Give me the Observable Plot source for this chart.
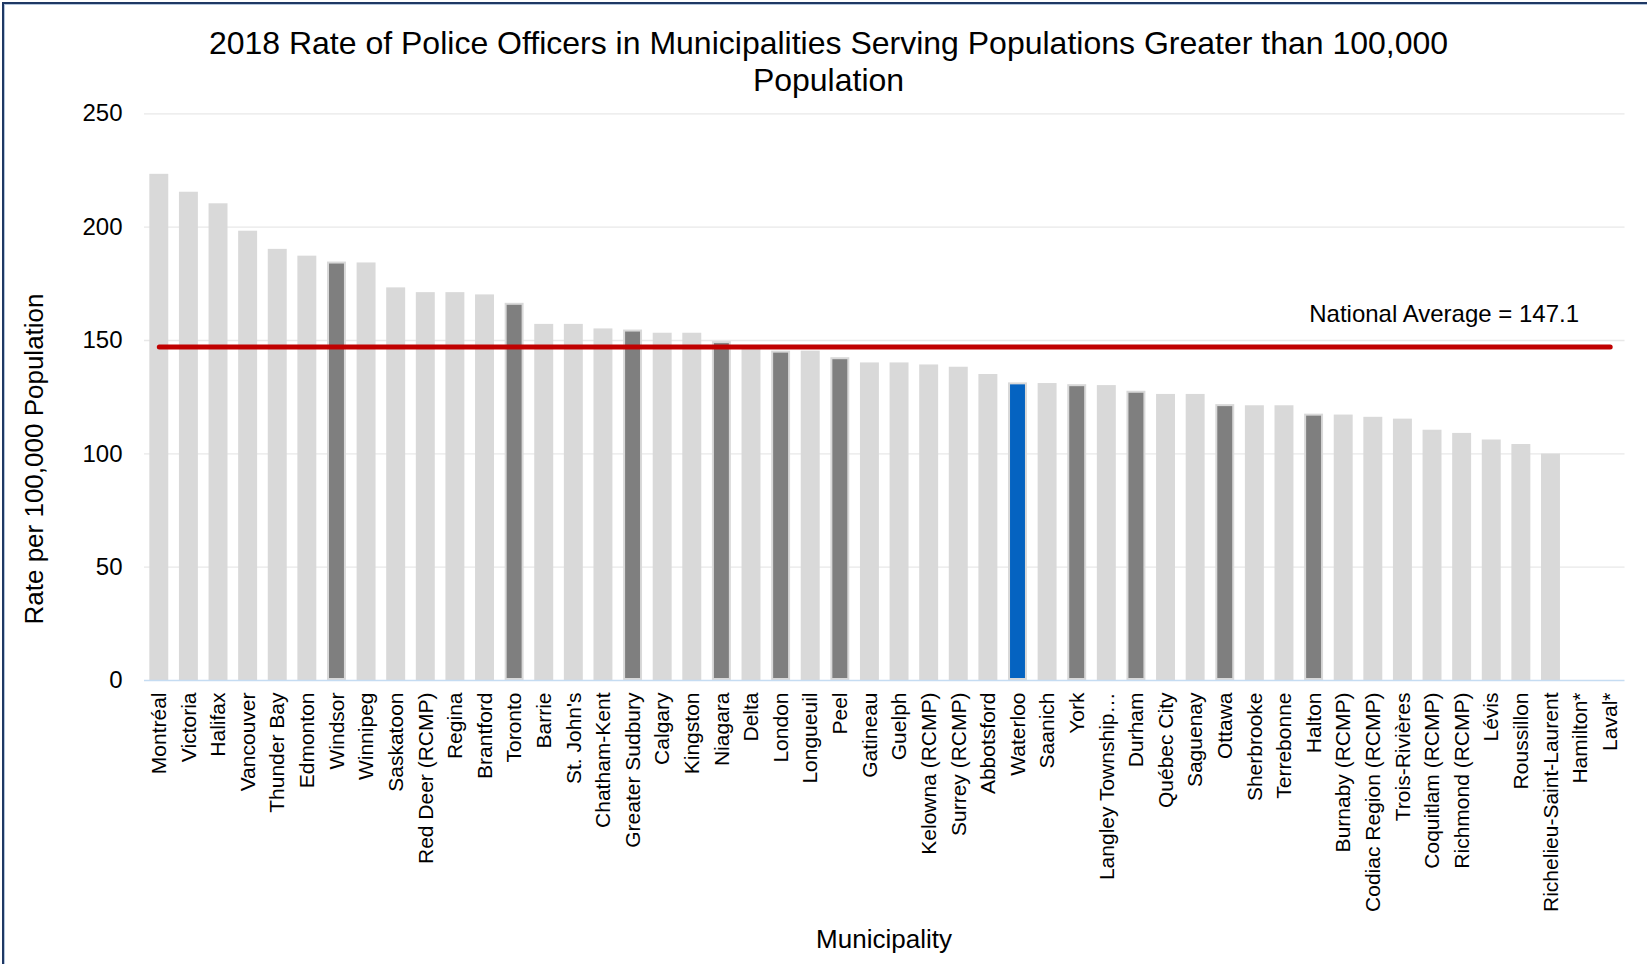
<!DOCTYPE html>
<html>
<head>
<meta charset="utf-8">
<script src="https://cdn.jsdelivr.net/npm/d3@7"></script>
<script src="https://cdn.jsdelivr.net/npm/@observablehq/plot@0.6"></script>
<style>
  html, body { margin: 0; padding: 0; background: #fff; }
  #chart { position: relative; width: 1647px; height: 964px; overflow: hidden; background: #fff;
           font-family: "Liberation Sans", Arial, sans-serif; color: #000; }
  #frame { position: absolute; left: 2px; top: 2px; width: 1700px; height: 1000px;
           border-top: 2.5px solid #1f3864; border-left: 2.5px solid #1f3864;
           box-shadow: inset 1px 1px 0 #b4c6dc; pointer-events: none; }
  #title { position: absolute; left: 0; top: 25px; width: 1657px; text-align: center;
           font-size: 32px; line-height: 36.8px; }
  #ylabel { position: absolute; left: 34px; top: 459px; width: 420px; margin-left: -210px;
            margin-top: -15px; line-height: 30px; text-align: center; font-size: 26px;
            transform: rotate(-90deg); transform-origin: 50% 50%; white-space: nowrap; }
  #xlabel { position: absolute; left: 884px; top: 924px; width: 300px; margin-left: -150px;
            text-align: center; font-size: 26px; line-height: 30px; }
  #plot { position: absolute; left: 0; top: 0; }
</style>
</head>
<body>
<div id="chart">
  <div id="plot"></div>
  <div id="title">2018 Rate of Police Officers in Municipalities Serving Populations Greater than 100,000<br>Population</div>
  <div id="ylabel">Rate per 100,000 Population</div>
  <div id="xlabel">Municipality</div>
  <div id="frame"></div>
</div>
<script>
// Municipalities, in ranked order
const municipalities = [
  "Montréal", "Victoria", "Halifax", "Vancouver", "Thunder Bay", "Edmonton", "Windsor",
  "Winnipeg", "Saskatoon", "Red Deer (RCMP)", "Regina", "Brantford", "Toronto", "Barrie",
  "St. John's", "Chatham-Kent", "Greater Sudbury", "Calgary", "Kingston", "Niagara", "Delta",
  "London", "Longueuil", "Peel", "Gatineau", "Guelph", "Kelowna (RCMP)", "Surrey (RCMP)",
  "Abbotsford", "Waterloo", "Saanich", "York", "Langley Township…", "Durham", "Québec City",
  "Saguenay", "Ottawa", "Sherbrooke", "Terrebonne", "Halton", "Burnaby (RCMP)",
  "Codiac Region (RCMP)", "Trois-Rivières", "Coquitlam (RCMP)", "Richmond (RCMP)", "Lévis",
  "Roussillon", "Richelieu-Saint-Laurent", "Hamilton*", "Laval*"
];

// Police officers per 100,000 population (null = not reported)
const rates = [
  223.3, 215.4, 210.3, 198.2, 190.2, 187.2, 184.6,
  184.2, 173.2, 171.1, 171.1, 170.1, 166.4, 157.1,
  157.1, 155.1, 154.6, 153.2, 153.2, 149.5, 146.8,
  145.3, 145.3, 142.4, 140.1, 140.1, 139.2, 138.2,
  135.0, 131.3, 131.0, 130.5, 130.1, 127.6, 126.2,
  126.2, 121.7, 121.2, 121.2, 117.5, 117.1,
  116.1, 115.3, 110.4, 109.0, 106.1,
  104.1, 99.9, null, null
];

// Ontario comparator services and the highlighted service
const comparators = ["Windsor", "Toronto", "Greater Sudbury", "Niagara", "London", "Peel",
                     "York", "Durham", "Ottawa", "Halton"];
const highlighted = ["Waterloo"];

const nationalAverage = 147.1;
const averageLabel = "National Average = 147.1";
const yTicks = [0, 50, 100, 150, 200, 250];

const colors = { other: "#d9d9d9", comparator: "#7f7f7f", highlight: "#0563c1" };

const rows = municipalities.map((name, i) => ({
  name,
  rate: rates[i],
  fill: highlighted.includes(name) ? colors.highlight
      : comparators.includes(name) ? colors.comparator : colors.other
}));
const bars = rows.filter(d => d.rate != null);

const averageLine = [
  { name: municipalities[0], rate: nationalAverage },
  { name: municipalities[municipalities.length - 1], rate: nationalAverage }
];

const chart = Plot.plot({
  width: 1647,
  height: 964,
  marginLeft: 144,
  marginRight: 22.5,
  marginTop: 113.3,
  marginBottom: 284,
  style: { fontFamily: "'Liberation Sans', Arial, sans-serif", background: "transparent", color: "#000" },
  x: { domain: municipalities, paddingInner: 0.36, paddingOuter: 0.18, label: null },
  y: { domain: [0, 250], label: null },
  color: { type: "identity" },
  marks: [
    Plot.gridY(yTicks.filter(t => t > 0), { stroke: "#e8e8e8", strokeOpacity: 1, strokeWidth: 1.3 }),
    Plot.barY(bars, { x: "name", y: "rate", fill: "fill", stroke: "#d9d9d9", strokeWidth: 2, inset: 1 }),
    Plot.ruleY([0], { stroke: "#c5dcf2", strokeWidth: 1.6 }),
    Plot.line(averageLine, { x: "name", y: "rate", stroke: "#c00000", strokeWidth: 5, strokeLinecap: "round" }),
    Plot.text([averageLabel], { frameAnchor: "right", y: () => nationalAverage, text: d => d,
      textAnchor: "end", dx: -46, dy: -32.6, fontSize: 24, fill: "#000" }),
    Plot.axisY({ ticks: yTicks, tickSize: 0, tickPadding: 22, fontSize: 24, label: null, fill: "#000" }),
    Plot.axisX({ tickSize: 0, tickRotate: -90, tickPadding: 12, fontSize: 21, label: null, fill: "#000" })
  ]
});

document.getElementById("plot").appendChild(chart);
</script>
</body>
</html>
